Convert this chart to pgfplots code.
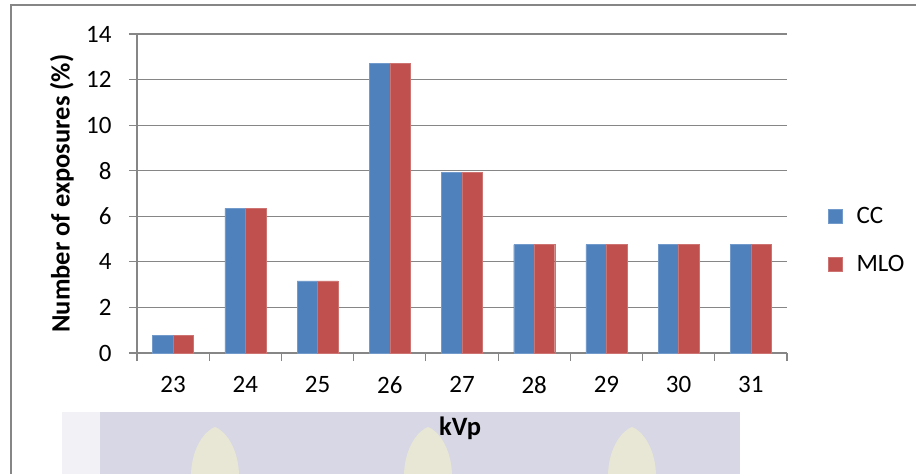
\documentclass[border=0pt]{standalone}
\usepackage{pgfplots}
\pgfplotsset{compat=1.18}
\usepackage{fontspec}
\setmainfont{Carlito}
\definecolor{ccblue}{HTML}{4F81BD}
\definecolor{mlored}{HTML}{C0504D}
\definecolor{gridgray}{HTML}{868686}
\definecolor{wmback}{HTML}{D7D7E5}
\definecolor{wmleaf}{HTML}{E8E6D5}

\pgfplotstableread{
x kvp CC    MLO
0 23  0.79  0.79
1 24  6.35  6.35
2 25  3.17  3.17
3 26  12.70 12.70
4 27  7.94  7.94
5 28  4.76  4.76
6 29  4.76  4.76
7 30  4.76  4.76
8 31  4.76  4.76
}\exposures

\begin{document}
\begin{tikzpicture}[x=1pt,y=1pt]
% faint banner behind the lower part (origin = lower left of the plot area)
\fill[wmback!35] (-75,-121) rectangle (-37,-59);
\fill[wmback] (-37,-121) rectangle (603,-59);
\foreach \cx in {78,291,495}{
  \fill[wmleaf] (\cx-24,-121) .. controls (\cx-23,-93) and (\cx-9,-77) .. (\cx,-74)
     .. controls (\cx+9,-77) and (\cx+23,-93) .. (\cx+24,-121) -- cycle;
}
% chart frame
\draw[gridgray, line width=1.5pt] (-126,-125) -- (-126,348) -- (785,348);

\begin{axis}[
  at={(0,0)}, anchor=south west,
  scale only axis, width=650pt, height=319pt,
  ybar=0pt, bar width=20.5pt,
  xmin=-0.5, xmax=8.5,
  ymin=0, ymax=14, ytick={0,2,...,14},
  xtick={0,...,8},
  xticklabels={23,24,25,26,27,28,29,30,31},
  minor xtick={-0.5,0.5,...,8.5},
  major x tick style={draw=none},
  minor x tick style={gridgray, line width=1.2pt},
  minor tick length=8pt,
  major tick length=8pt,
  tick align=outside,
  ytick style={gridgray, line width=1.2pt},
  axis x line*=bottom, axis y line*=left,
  axis line style={gridgray, line width=1.2pt, -},
  ymajorgrids, major grid style={gridgray, line width=1.2pt},
  tick label style={font=\fontsize{25}{29}\selectfont},
  /pgf/number format/assume math mode=true,
  xticklabel style={yshift=-12pt},
  yticklabel style={xshift=-14pt},
  ylabel={\textbf{Number of exposures (\%)}},
  ylabel style={font=\fontsize{26.5}{30}\selectfont, at={(axis description cs:-0.1154,0.5)}, anchor=center},
  xlabel={\textbf{kVp}},
  xlabel style={font=\fontsize{26.5}{30}\selectfont, at={(axis description cs:0.497,-0.235)}, anchor=center},
  legend style={draw=none, fill=none, at={(axis description cs:1.063,0.354)}, anchor=west,
    font=\fontsize{25}{29}\selectfont, row sep=27pt, inner sep=0pt},
  legend cell align=left,
  legend image code/.code={\fill[#1] (0pt,-7pt) rectangle (14pt,7pt); \path (26pt,0pt);},
  clip=false,
]
\addplot[fill=ccblue, draw=ccblue!80!white] table[x=x, y=CC] {\exposures};
\addplot[fill=mlored, draw=mlored!80!white] table[x=x, y=MLO] {\exposures};
\legend{CC, MLO}
\end{axis}
\pgfresetboundingbox
\path[use as bounding box] (-137,-121) rectangle (779,353);
\end{tikzpicture}
\end{document}
